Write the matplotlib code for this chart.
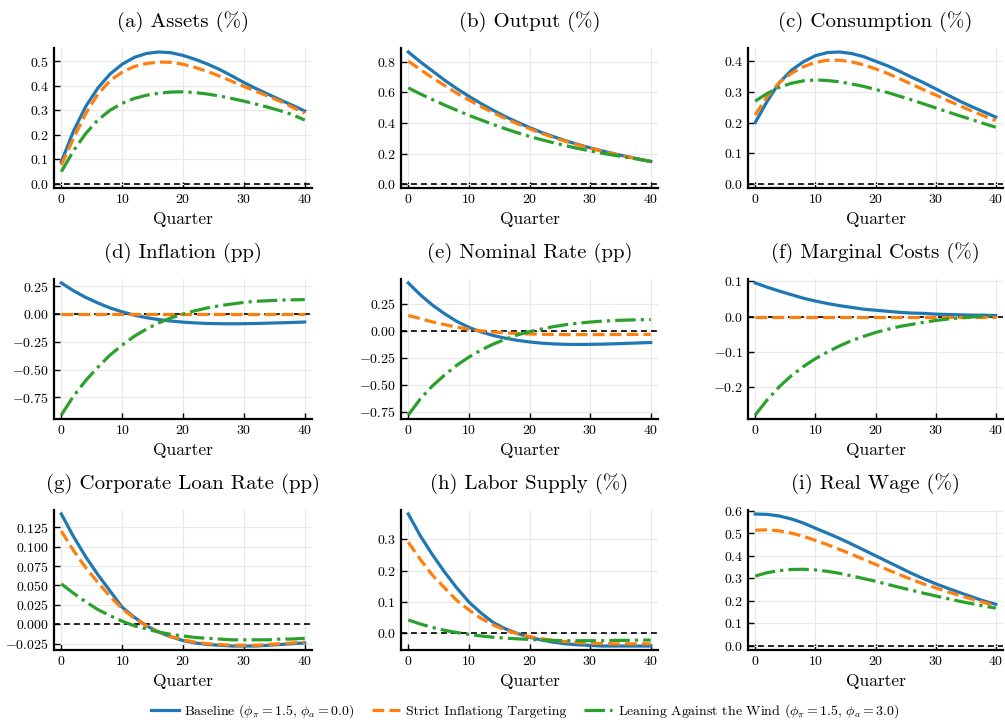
import numpy as np
import matplotlib
matplotlib.use("Agg")
import matplotlib.pyplot as plt
from matplotlib.ticker import MultipleLocator

plt.rcParams['font.family'] = 'serif'
plt.rcParams['font.serif'] = ['cmr10']
plt.rcParams['mathtext.fontset'] = 'cm'
plt.rcParams['axes.formatter.use_mathtext'] = True

# quarters after the shock (read every 2 quarters)
quarters = np.arange(0, 41, 2)

# (a) Assets
assets_base = [0.09, 0.215, 0.315, 0.39, 0.447, 0.487, 0.515, 0.531, 0.537, 0.534, 0.523,
               0.507, 0.488, 0.466, 0.44, 0.413, 0.388, 0.365, 0.342, 0.32, 0.297]
assets_sit = [0.077, 0.185, 0.286, 0.365, 0.42, 0.455, 0.478, 0.49, 0.496, 0.495, 0.487,
              0.474, 0.458, 0.439, 0.418, 0.397, 0.377, 0.357, 0.336, 0.312, 0.288]
assets_law = [0.05, 0.135, 0.205, 0.26, 0.30, 0.328, 0.348, 0.361, 0.369, 0.374, 0.375,
              0.372, 0.366, 0.358, 0.348, 0.337, 0.325, 0.312, 0.298, 0.282, 0.26]

# (b) Output
output_base = [0.865, 0.80, 0.74, 0.68, 0.625, 0.575, 0.527, 0.483, 0.442, 0.405, 0.37,
               0.338, 0.31, 0.283, 0.259, 0.237, 0.217, 0.198, 0.181, 0.164, 0.148]
output_sit = [0.805, 0.75, 0.695, 0.645, 0.595, 0.55, 0.507, 0.467, 0.43, 0.395, 0.362,
              0.332, 0.304, 0.279, 0.256, 0.234, 0.214, 0.196, 0.179, 0.163, 0.148]
output_law = [0.63, 0.59, 0.553, 0.517, 0.483, 0.45, 0.42, 0.39, 0.362, 0.336, 0.312,
              0.29, 0.27, 0.251, 0.233, 0.217, 0.202, 0.188, 0.175, 0.162, 0.148]

# (c) Consumption
cons_base = [0.20, 0.27, 0.33, 0.37, 0.398, 0.418, 0.428, 0.43, 0.425, 0.415, 0.40,
             0.385, 0.367, 0.348, 0.33, 0.31, 0.29, 0.27, 0.252, 0.235, 0.218]
cons_sit = [0.225, 0.285, 0.33, 0.36, 0.382, 0.396, 0.403, 0.403, 0.398, 0.388, 0.375,
            0.36, 0.343, 0.325, 0.307, 0.29, 0.272, 0.255, 0.238, 0.222, 0.207]
cons_law = [0.27, 0.295, 0.315, 0.328, 0.336, 0.339, 0.337, 0.333, 0.326, 0.318, 0.308,
            0.298, 0.286, 0.274, 0.261, 0.248, 0.235, 0.222, 0.21, 0.197, 0.185]

# (d) Inflation
infl_base = [0.28, 0.21, 0.15, 0.10, 0.055, 0.02, -0.01, -0.033, -0.05, -0.063, -0.073,
             -0.08, -0.085, -0.087, -0.088, -0.087, -0.085, -0.082, -0.079, -0.076, -0.072]
infl_sit = [0.0] * 21
infl_law = [-0.91, -0.74, -0.60, -0.48, -0.37, -0.28, -0.20, -0.135, -0.08, -0.035, 0.0,
            0.03, 0.055, 0.075, 0.09, 0.105, 0.115, 0.12, 0.125, 0.128, 0.13]

# (e) Nominal Rate
rate_base = [0.44, 0.33, 0.235, 0.155, 0.085, 0.03, -0.012, -0.045, -0.07, -0.09, -0.105,
             -0.116, -0.123, -0.127, -0.128, -0.127, -0.125, -0.122, -0.118, -0.114, -0.11]
rate_sit = [0.14, 0.11, 0.08, 0.055, 0.032, 0.013, -0.002, -0.013, -0.021, -0.027, -0.031,
            -0.034, -0.036, -0.037, -0.037, -0.037, -0.037, -0.036, -0.036, -0.035, -0.035]
rate_law = [-0.78, -0.63, -0.51, -0.41, -0.32, -0.245, -0.18, -0.125, -0.08, -0.04, -0.01,
            0.015, 0.037, 0.055, 0.068, 0.079, 0.087, 0.093, 0.097, 0.10, 0.102]

# (f) Marginal Costs
mc_base = [0.095, 0.083, 0.072, 0.062, 0.052, 0.044, 0.037, 0.031, 0.026, 0.021, 0.018,
           0.015, 0.012, 0.010, 0.009, 0.007, 0.006, 0.005, 0.004, 0.004, 0.003]
mc_sit = [0.0] * 21
mc_law = [-0.278, -0.235, -0.198, -0.167, -0.141, -0.119, -0.10, -0.083, -0.068, -0.056, -0.045,
          -0.036, -0.028, -0.022, -0.016, -0.011, -0.007, -0.004, -0.001, 0.001, 0.003]

# (g) Corporate Loan Rate
loan_base = [0.142, 0.113, 0.087, 0.064, 0.043, 0.022, 0.009, -0.002, -0.01, -0.016, -0.021,
             -0.024, -0.026, -0.027, -0.028, -0.028, -0.028, -0.027, -0.026, -0.025, -0.024]
loan_sit = [0.12, 0.095, 0.073, 0.054, 0.036, 0.02, 0.008, -0.002, -0.01, -0.016, -0.02,
            -0.023, -0.025, -0.026, -0.027, -0.027, -0.027, -0.026, -0.025, -0.024, -0.023]
loan_law = [0.052, 0.04, 0.029, 0.019, 0.011, 0.004, -0.002, -0.006, -0.01, -0.013, -0.015,
            -0.017, -0.018, -0.019, -0.02, -0.02, -0.02, -0.02, -0.019, -0.019, -0.018]

# (h) Labor Supply
labor_base = [0.38, 0.31, 0.25, 0.195, 0.145, 0.10, 0.065, 0.035, 0.015, 0.0, -0.012,
              -0.021, -0.028, -0.033, -0.036, -0.038, -0.04, -0.04, -0.04, -0.04, -0.04]
labor_sit = [0.29, 0.235, 0.185, 0.145, 0.105, 0.075, 0.048, 0.027, 0.011, -0.001, -0.01,
             -0.017, -0.022, -0.026, -0.029, -0.031, -0.032, -0.033, -0.033, -0.033, -0.033]
labor_law = [0.043, 0.03, 0.019, 0.01, 0.003, -0.003, -0.008, -0.012, -0.015, -0.017, -0.019,
             -0.021, -0.022, -0.023, -0.023, -0.023, -0.023, -0.022, -0.022, -0.021, -0.021]

# (i) Real Wage
wage_base = [0.585, 0.583, 0.576, 0.563, 0.545, 0.522, 0.50, 0.477, 0.452, 0.426, 0.40,
             0.374, 0.348, 0.322, 0.298, 0.276, 0.256, 0.237, 0.218, 0.20, 0.185]
wage_sit = [0.513, 0.515, 0.51, 0.50, 0.486, 0.468, 0.449, 0.428, 0.407, 0.384, 0.362,
            0.338, 0.316, 0.295, 0.275, 0.258, 0.24, 0.224, 0.208, 0.193, 0.178]
wage_law = [0.31, 0.325, 0.334, 0.339, 0.34, 0.337, 0.331, 0.322, 0.311, 0.299, 0.287,
            0.273, 0.26, 0.247, 0.234, 0.222, 0.21, 0.198, 0.188, 0.177, 0.168]

titles = ['(a) Assets (%)', '(b) Output (%)', '(c) Consumption (%)',
          '(d) Inflation (pp)', '(e) Nominal Rate (pp)', '(f) Marginal Costs (%)',
          '(g) Corporate Loan Rate (pp)', '(h) Labor Supply (%)', '(i) Real Wage (%)']
series = [(assets_base, assets_sit, assets_law), (output_base, output_sit, output_law),
          (cons_base, cons_sit, cons_law), (infl_base, infl_sit, infl_law),
          (rate_base, rate_sit, rate_law), (mc_base, mc_sit, mc_law),
          (loan_base, loan_sit, loan_law), (labor_base, labor_sit, labor_law),
          (wage_base, wage_sit, wage_law)]
ystep = [0.1, 0.2, 0.1, 0.25, 0.25, 0.1, 0.025, 0.1, 0.1]

labels = [r'Baseline ($\phi_\pi = 1.5$, $\phi_a = 0.0$)',
          'Strict Inflationg Targeting',
          r'Leaning Against the Wind ($\phi_\pi = 1.5$, $\phi_a = 3.0$)']
colors = ['#1f77b4', '#ff7f0e', '#2ca02c']
styles = ['-', '--', '-.']

W, H = 1005, 723
fig = plt.figure(figsize=(W / 100, H / 100), dpi=100)

col_left = [54, 401, 748]
col_right = [312, 658, 1003]
row_top = [48, 279, 510]
ax_h = 140

handles = []
for k in range(9):
    r, c = divmod(k, 3)
    left = col_left[c]
    w = col_right[c] - left
    ax = fig.add_axes([left / W, 1 - (row_top[r] + ax_h) / H, w / W, ax_h / H])
    ax.axhline(0, color='black', ls=(0, (3.5, 2.5)), lw=1.2, zorder=1)
    lines = []
    for vals, col, st in zip(series[k], colors, styles):
        ln, = ax.plot(quarters, vals, color=col, ls=st, lw=2.3, zorder=2)
        lines.append(ln)
    if k == 0:
        handles = lines
    ax.margins(x=0.03, y=0.03)
    ax.set_xticks([0, 10, 20, 30, 40])
    ax.yaxis.set_major_locator(MultipleLocator(ystep[k]))
    ax.set_title(titles[k], fontsize=15, pad=15)
    ax.set_xlabel('Quarter', fontsize=12.5, labelpad=4)
    ax.tick_params(labelsize=10, direction='in', length=4, width=1, color='black')
    ax.grid(True, color='#e8e8e8', lw=0.8)
    ax.set_axisbelow(True)
    for s in ['top', 'right']:
        ax.spines[s].set_visible(False)
    for s in ['left', 'bottom']:
        ax.spines[s].set_linewidth(1.6)

fig.legend(handles, labels, loc='center', bbox_to_anchor=(525 / W, 1 - 711 / H), ncol=3,
           frameon=False, fontsize=10, handlelength=2.0, columnspacing=1.3, handletextpad=0.4)

fig.savefig('out.png', dpi=100)
